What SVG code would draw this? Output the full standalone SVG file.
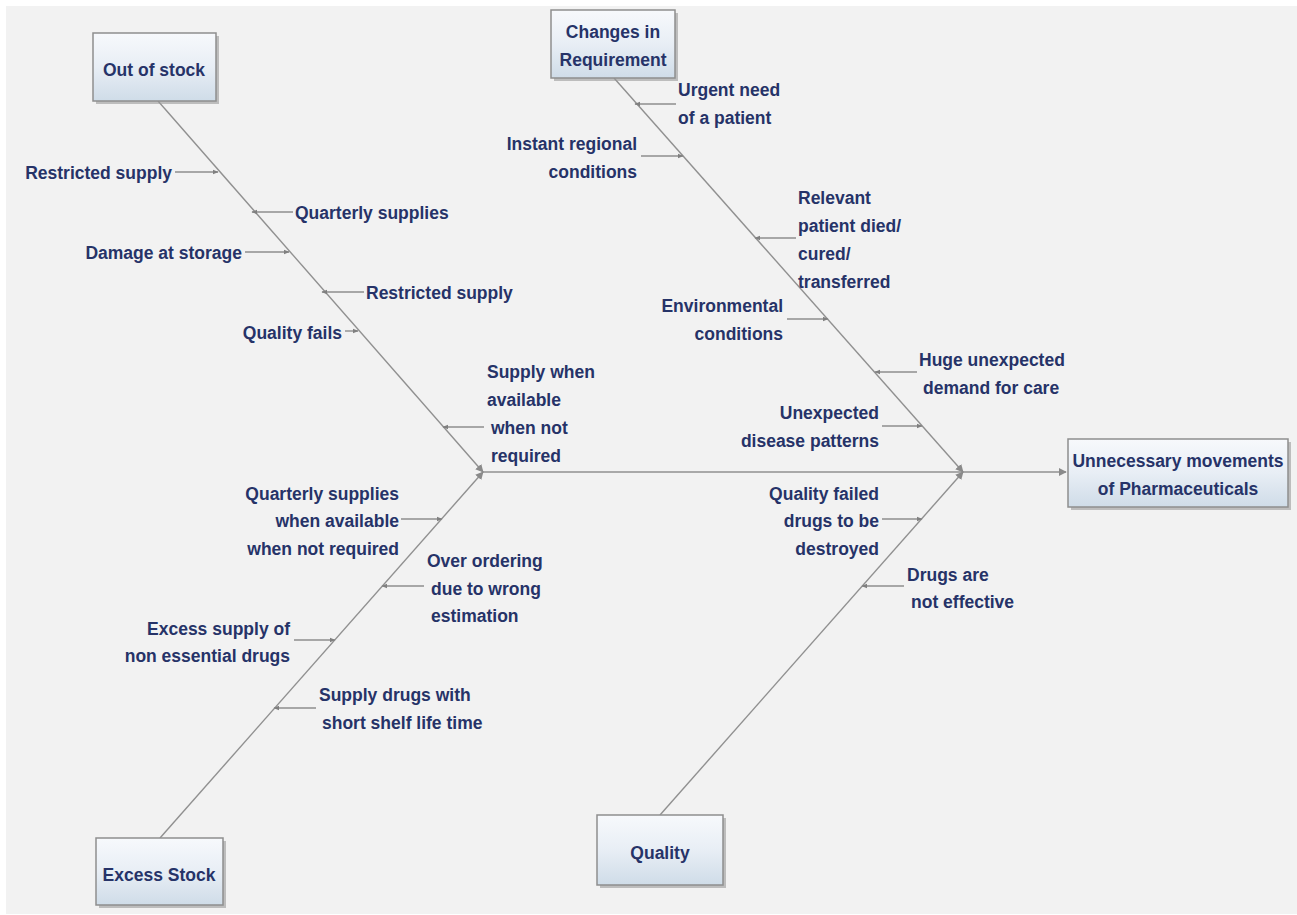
<svg xmlns="http://www.w3.org/2000/svg" width="1297" height="915" viewBox="0 0 1297 915">
<style>
.lbl{font-family:"Liberation Sans",Arial,sans-serif;font-size:17.5px;font-weight:bold;fill:#263368;}
.r{text-anchor:end;}
.box{fill:url(#g);stroke:#8e8e8e;stroke-width:1.5;}
.sh{fill:#9a9a9a;opacity:0.6;}
.bt{font-family:"Liberation Sans",Arial,sans-serif;font-size:17.5px;font-weight:bold;fill:#263368;text-anchor:middle;}
.bone{stroke:#909090;stroke-width:1.4;fill:none;}
.sub{stroke:#8e8e8e;stroke-width:1.4;fill:none;marker-end:url(#a);}
</style>
<defs>
<linearGradient id="g" x1="0" y1="0" x2="0" y2="1">
<stop offset="0" stop-color="#f7f9fc"/>
<stop offset="0.5" stop-color="#e8eef5"/>
<stop offset="1" stop-color="#cfdce8"/>
</linearGradient>
<marker id="a" viewBox="0 0 10 10" refX="9" refY="5" markerWidth="6" markerHeight="6" orient="auto" markerUnits="userSpaceOnUse">
<path d="M0,1 L10,5 L0,9 z" fill="#808080"/>
</marker>
<marker id="j" viewBox="0 0 10 10" refX="9" refY="5" markerWidth="8" markerHeight="8" orient="auto" markerUnits="userSpaceOnUse">
<path d="M0,0 L10,5 L0,10 z" fill="#8a8a8a"/>
</marker>
</defs>
<rect x="0" y="0" width="1297" height="915" fill="#ffffff"/>
<rect x="6" y="6" width="1291" height="908" fill="#f2f2f2"/>

<g id="connectors">
<line class="bone" x1="483" y1="472" x2="1066" y2="472" stroke-width="2" marker-end="url(#j)"/>
<line class="bone" x1="158" y1="101" x2="483" y2="472" marker-end="url(#j)"/>
<line class="bone" x1="160" y1="838" x2="483" y2="472" marker-end="url(#j)"/>
<line class="bone" x1="614" y1="78" x2="963" y2="472" marker-end="url(#j)"/>
<line class="bone" x1="660" y1="815" x2="963" y2="472" marker-end="url(#j)"/>
<line class="sub" x1="175" y1="172" x2="218" y2="172"/>
<line class="sub" x1="293" y1="212" x2="252" y2="212"/>
<line class="sub" x1="245" y1="252" x2="289" y2="252"/>
<line class="sub" x1="364" y1="292" x2="322" y2="292"/>
<line class="sub" x1="345" y1="331" x2="358" y2="331"/>
<line class="sub" x1="484" y1="427" x2="443" y2="427"/>
<line class="sub" x1="676" y1="104" x2="635" y2="104"/>
<line class="sub" x1="641" y1="156" x2="683" y2="156"/>
<line class="sub" x1="796" y1="238" x2="755" y2="238"/>
<line class="sub" x1="787" y1="319" x2="828" y2="319"/>
<line class="sub" x1="917" y1="372" x2="875" y2="372"/>
<line class="sub" x1="882" y1="426" x2="922" y2="426"/>
<line class="sub" x1="401" y1="519" x2="442" y2="519"/>
<line class="sub" x1="424" y1="586" x2="382" y2="586"/>
<line class="sub" x1="294" y1="640" x2="335" y2="640"/>
<line class="sub" x1="316" y1="708" x2="274" y2="708"/>
<line class="sub" x1="882" y1="519" x2="922" y2="519"/>
<line class="sub" x1="904" y1="586" x2="862" y2="586"/>
</g>

<g id="n-effect">
<rect class="sh" x="1071" y="442" width="220" height="68"/>
<rect class="box" x="1068" y="439" width="220" height="68"/>
<text class="bt" x="1178" y="467">Unnecessary movements</text>
<text class="bt" x="1178" y="495">of Pharmaceuticals</text>
</g>
<g id="n-outofstock">
<rect class="sh" x="96" y="36" width="123" height="68"/>
<rect class="box" x="93" y="33" width="123" height="68"/>
<text class="bt" x="154" y="76">Out of stock</text>
</g>
<g id="n-changes">
<rect class="sh" x="554" y="13" width="124" height="68"/>
<rect class="box" x="551" y="10" width="124" height="68"/>
<text class="bt" x="613" y="38">Changes in</text>
<text class="bt" x="613" y="66">Requirement</text>
</g>
<g id="n-excess">
<rect class="sh" x="99" y="841" width="127" height="67"/>
<rect class="box" x="96" y="838" width="127" height="67"/>
<text class="bt" x="159" y="881">Excess Stock</text>
</g>
<g id="n-quality">
<rect class="sh" x="600" y="818" width="126" height="70"/>
<rect class="box" x="597" y="815" width="126" height="70"/>
<text class="bt" x="660" y="859">Quality</text>
</g>

<g id="causes">
<text class="lbl r" x="172" y="179">Restricted supply</text>
<text class="lbl" x="295" y="219">Quarterly supplies</text>
<text class="lbl r" x="242" y="259">Damage at storage</text>
<text class="lbl" x="366" y="299">Restricted supply</text>
<text class="lbl r" x="342" y="339">Quality fails</text>
<text class="lbl" x="487" y="378">Supply when</text>
<text class="lbl" x="487" y="406">available</text>
<text class="lbl" x="491" y="434">when not</text>
<text class="lbl" x="491" y="462">required</text>

<text class="lbl" x="678" y="96">Urgent need</text>
<text class="lbl" x="678" y="124">of a patient</text>
<text class="lbl r" x="637" y="150">Instant regional</text>
<text class="lbl r" x="637" y="178">conditions</text>
<text class="lbl" x="798" y="204">Relevant</text>
<text class="lbl" x="798" y="232">patient died/</text>
<text class="lbl" x="798" y="260">cured/</text>
<text class="lbl" x="798" y="288">transferred</text>
<text class="lbl r" x="783" y="312">Environmental</text>
<text class="lbl r" x="783" y="340">conditions</text>
<text class="lbl" x="919" y="366">Huge unexpected</text>
<text class="lbl" x="923" y="394">demand for care</text>
<text class="lbl r" x="879" y="419">Unexpected</text>
<text class="lbl r" x="879" y="447">disease patterns</text>

<text class="lbl r" x="399" y="500">Quarterly supplies</text>
<text class="lbl r" x="399" y="527">when available</text>
<text class="lbl r" x="399" y="555">when not required</text>
<text class="lbl" x="427" y="567">Over ordering</text>
<text class="lbl" x="431" y="595">due to wrong</text>
<text class="lbl" x="431" y="622">estimation</text>
<text class="lbl r" x="290" y="635">Excess supply of</text>
<text class="lbl r" x="290" y="662">non essential drugs</text>
<text class="lbl" x="319" y="701">Supply drugs with</text>
<text class="lbl" x="322" y="729">short shelf life time</text>

<text class="lbl r" x="879" y="500">Quality failed</text>
<text class="lbl r" x="879" y="527">drugs to be</text>
<text class="lbl r" x="879" y="555">destroyed</text>
<text class="lbl" x="907" y="581">Drugs are</text>
<text class="lbl" x="911" y="608">not effective</text>
</g>
</svg>
